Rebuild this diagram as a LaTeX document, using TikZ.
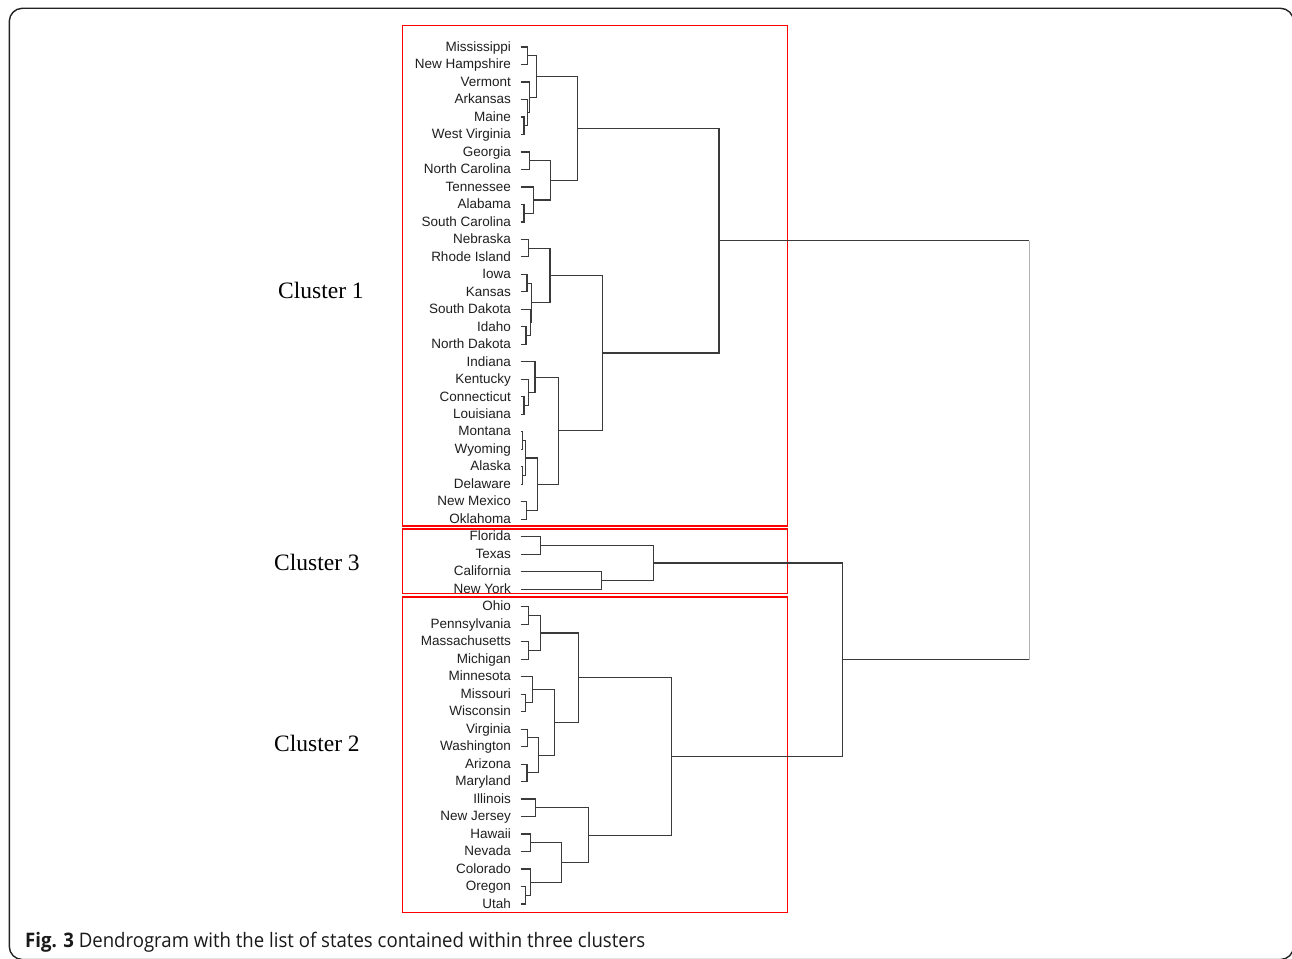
\documentclass[tikz,border=0pt]{standalone}
\usepackage{fontspec}
\setmainfont{Liberation Serif}
\newfontfamily\labfont{Liberation Sans}
\newfontfamily\capfont[FakeStretch=0.93]{Open Sans}
\usetikzlibrary{calc}
\definecolor{dendcol}{HTML}{3A3A3A}
\definecolor{framecol}{HTML}{222222}
\tikzset{
  dend/.style={draw=dendcol, line width=1.2pt},
  rootv/.style={draw=black!30, line width=1.0pt},
  lab/.style={anchor=base east, inner sep=0pt, font=\labfont\fontsize{13.5}{14}\selectfont, text=black!88},
  clab/.style={anchor=base west, inner sep=0pt, font=\fontsize{23.5}{26}\selectfont, text=black},
  redbox/.style={draw=red, line width=1.6pt},
  capt/.style={anchor=base west, inner sep=0pt, font=\capfont\fontsize{20}{22}\selectfont, text=black!90},
}
\newcommand\mrg[4]{%
  \draw[dend] let \p1=(#1), \p2=(#2) in (#1) -- (#4pt,\y1) -- (#4pt,\y2) -- (#2);
  \path let \p1=(#1), \p2=(#2) in coordinate (#3) at (#4pt,{(\y1+\y2)/2});
}
\begin{document}
\begin{tikzpicture}[x=1pt,y=-1pt]
\useasboundingbox (0,0) rectangle (1292,958);
\clip (0,0) rectangle (1292,958);
\fill[white] (0,0) rectangle (1292,958);
% outer frame
\draw[framecol, line width=1.4pt, rounded corners=13pt] (9.3,8.3) rectangle (1293.5,959.5);
% leaves
\foreach \n/\lab [count=\i from 0] in {MS/Mississippi, NH/New Hampshire, VT/Vermont, AR/Arkansas, ME/Maine, WV/West Virginia, GA/Georgia, NC/North Carolina, TN/Tennessee, AL/Alabama, SC/South Carolina, NE/Nebraska, RI/Rhode Island, IA/Iowa, KS/Kansas, SD/South Dakota, ID/Idaho, ND/North Dakota, IN/Indiana, KY/Kentucky, CT/Connecticut, LA/Louisiana, MT/Montana, WY/Wyoming, AK/Alaska, DE/Delaware, NM/New Mexico, OK/Oklahoma, FL/Florida, TX/Texas, CA/California, NY/New York, OH/Ohio, PA/Pennsylvania, MA/Massachusetts, MI/Michigan, MN/Minnesota, MO/Missouri, WI/Wisconsin, VA/Virginia, WA/Washington, AZ/Arizona, MD/Maryland, IL/Illinois, NJ/New Jersey, HI/Hawaii, NV/Nevada, CO/Colorado, OR/Oregon, UT/Utah} {
  \pgfmathsetmacro\yy{47+17.49*\i}
  \node[lab] (t\n) at (511,\yy+4.2) {\lab};
  \coordinate (\n) at (520.5,\yy);
}
% red cluster boxes
\draw[redbox] (402.3,25.5) rectangle (787.3,525.7);
\draw[redbox] (402.3,529) rectangle (787.3,593.5);
\draw[redbox] (402.3,597) rectangle (787.3,912.5);
% cluster 1
\mrg{MS}{NH}{a1}{527.7}
\mrg{ME}{WV}{a2}{524}
\mrg{AR}{a2}{a3}{527.6}
\mrg{VT}{a3}{a4}{529.3}
\mrg{a1}{a4}{a5}{536.3}
\mrg{GA}{NC}{a6}{529.3}
\mrg{AL}{SC}{a7}{524}
\mrg{TN}{a7}{a8}{533.3}
\mrg{a6}{a8}{a9}{550.7}
\mrg{a5}{a9}{A}{577.3}
\mrg{NE}{RI}{b1}{528.7}
\mrg{IA}{KS}{b2}{527}
\mrg{ID}{ND}{b3}{526}
\mrg{SD}{b3}{b4}{530.5}
\mrg{b2}{b4}{b5}{531.8}
\mrg{b1}{b5}{b6}{550}
\mrg{CT}{LA}{b7}{524}
\mrg{KY}{b7}{b8}{528.3}
\mrg{IN}{b8}{b9}{535}
\mrg{MT}{WY}{c1}{522.7}
\mrg{AK}{DE}{c2}{522.7}
\mrg{c1}{c2}{c3}{525.5}
\mrg{NM}{OK}{c4}{526.7}
\mrg{c3}{c4}{c5}{537.3}
\mrg{b9}{c5}{c6}{558.3}
\mrg{b6}{c6}{B}{602.7}
\mrg{A}{B}{C1}{719}
% cluster 3
\mrg{FL}{TX}{d1}{540.7}
\mrg{CA}{NY}{d2}{601.7}
\mrg{d1}{d2}{C3}{653.3}
% cluster 2
\mrg{OH}{PA}{e1}{528.3}
\mrg{MA}{MI}{e2}{528.3}
\mrg{e1}{e2}{e3}{540.7}
\mrg{MO}{WI}{e4}{525.7}
\mrg{MN}{e4}{e5}{532.3}
\mrg{VA}{WA}{e6}{527.7}
\mrg{AZ}{MD}{e7}{527}
\mrg{e6}{e7}{e8}{538.3}
\mrg{e5}{e8}{e9}{554.3}
\mrg{e3}{e9}{E}{578.3}
\mrg{IL}{NJ}{f1}{535.7}
\mrg{HI}{NV}{f2}{530.7}
\mrg{OR}{UT}{f3}{525.7}
\mrg{CO}{f3}{f4}{530.7}
\mrg{f2}{f4}{f5}{561.7}
\mrg{f1}{f5}{F}{588.3}
\mrg{E}{F}{C2}{671.7}
\mrg{C3}{C2}{C32}{842.7}
% root
\draw[rootv] let \p1=(C1), \p2=(C32) in (1029pt,\y1) -- (1029pt,\y2);
\draw[dend] let \p1=(C1) in (C1) -- (1029pt,\y1);
\draw[dend] let \p1=(C32) in (C32) -- (1029pt,\y1);
% cluster labels
\node[clab] (cl1) at (278,298) {Cluster 1};
\node[clab] (cl3) at (274,570) {Cluster 3};
\node[clab] (cl2) at (274,751) {Cluster 2};
% caption
\node[capt] (cap) at (25,947) {\textbf{Fig. 3} Dendrogram with the list of states contained within three clusters};
\end{tikzpicture}
\end{document}
